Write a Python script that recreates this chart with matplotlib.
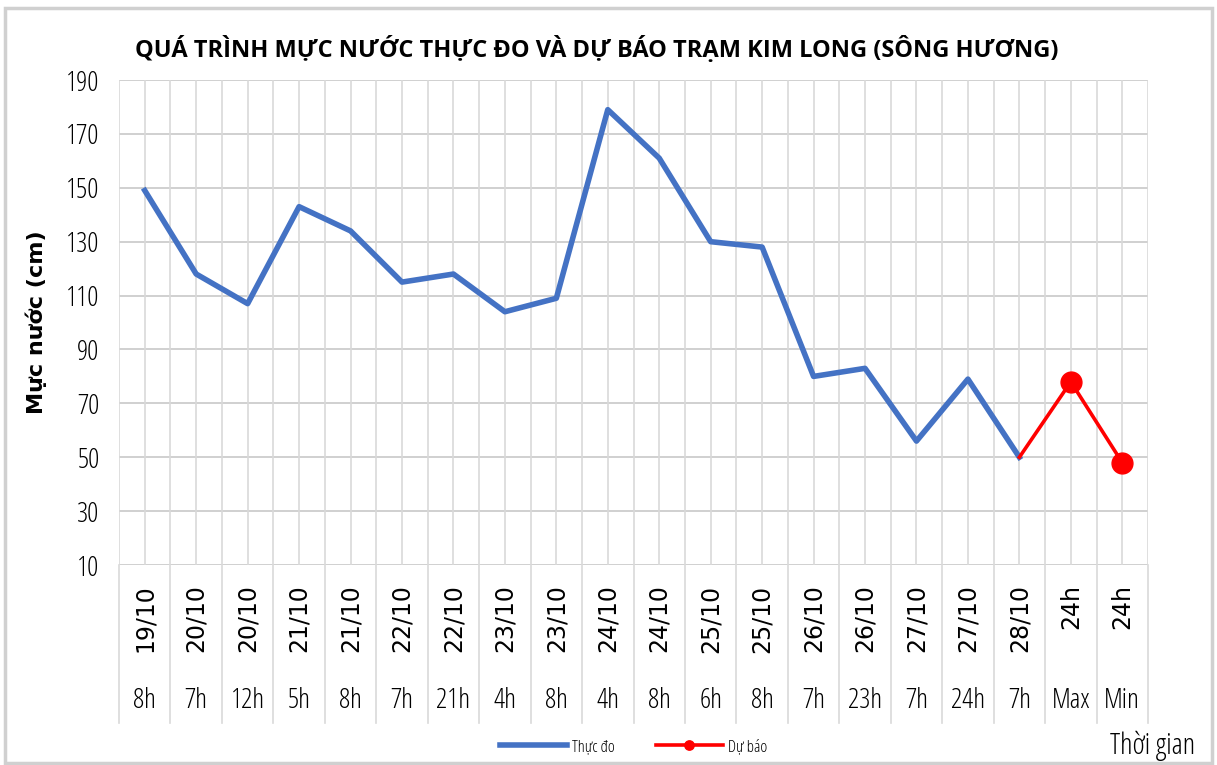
import matplotlib
matplotlib.use("Agg")
import matplotlib.pyplot as plt
from matplotlib import font_manager
from matplotlib.patches import Rectangle
import numpy as np

# ===============================
# DATA
# ===============================
dates = ["19/10", "20/10", "20/10", "21/10", "21/10", "22/10", "22/10", "23/10",
         "23/10", "24/10", "24/10", "25/10", "25/10", "26/10", "26/10", "27/10",
         "27/10", "28/10", "24h", "24h"]
hours = ["8h", "7h", "12h", "5h", "8h", "7h", "21h", "4h", "8h", "4h", "8h",
         "6h", "8h", "7h", "23h", "7h", "24h", "7h", "Max", "Min"]

observed = [149, 118, 107, 143, 134, 115, 118, 104, 109, 179, 161,
            130, 128, 80, 83, 56, 79, 50]
forecast = [50, 78, 48]

# ===============================
# FONTS
# ===============================
names = {f.name for f in font_manager.fontManager.ttflist}
NARROW = [f for f in ["Liberation Sans Narrow", "Open Sans", "DejaVu Sans"] if f in names]
STRETCH = "condensed"

# ===============================
# FIGURE
# ===============================
fig = plt.figure(figsize=(12.17, 7.65), dpi=100)
fig.patches.append(Rectangle((0.004, 0.003), 0.992, 0.986, transform=fig.transFigure,
                             fill=False, edgecolor="#d0d0d0", linewidth=2.5))
ax = fig.add_axes([0.0978, 0.2614, 0.8455, 0.634])

n = len(hours)
x_obs = np.arange(len(observed))
x_fc = np.arange(len(observed) - 1, len(observed) - 1 + len(forecast))

ax.plot(x_obs, observed, color="#4472c4", linewidth=4.0, label="Thực đo", zorder=3)
ax.plot(x_fc, forecast, color="#ff0000", linewidth=2.6, marker="o", markersize=15,
        markevery=[1, 2], label="Dự báo", zorder=4)

ax.set_xlim(-0.5, n - 0.5)
ax.set_ylim(10, 190)
ax.set_yticks(np.arange(10, 191, 20))
ax.set_yticklabels([str(v) for v in range(10, 191, 20)], fontsize=20,
                   family=NARROW, stretch=STRETCH)
ax.tick_params(axis="y", length=0, pad=14)
ax.set_xticks([])

# gridlines
for y in range(10, 191, 20):
    ax.axhline(y, color="#d0d0d0", linewidth=1.4, zorder=1)
for xv in np.arange(-0.5, n, 0.5):
    ax.axvline(xv, color="#d9d9d9", linewidth=1.2, zorder=1)
for s in ax.spines.values():
    s.set_visible(False)

# category labels
tr = ax.get_xaxis_transform()
for i in range(n):
    ax.text(i, -0.04, dates[i], transform=tr, rotation=90, ha="center", va="top",
            fontsize=17, family="DejaVu Sans", fontweight="medium")
    ax.text(i, -0.28, hours[i], transform=tr, ha="center", va="center",
            fontsize=20, family=NARROW, stretch=STRETCH)
for xv in np.arange(-0.5, n, 1.0):
    ax.plot([xv, xv], [0, -0.326], transform=tr, color="#d9d9d9", linewidth=1.2,
            clip_on=False)

ax.set_ylabel("Mực nước (cm)", fontsize=16, fontweight="bold", labelpad=14)

fig.text(0.49, 0.935, "QUÁ TRÌNH MỰC NƯỚC THỰC ĐO VÀ DỰ BÁO TRẠM KIM LONG (SÔNG HƯƠNG)",
         ha="center", va="center", fontsize=17, fontweight="bold", family=NARROW,
         stretch=STRETCH)
fig.text(0.982, 0.025, "Thời gian", ha="right", va="center", fontsize=21,
         family=NARROW, stretch=STRETCH)

leg = ax.legend(loc="center", bbox_to_anchor=(0.5, -0.375), ncol=2, frameon=False,
                prop={"family": NARROW, "size": 12, "stretch": STRETCH},
                handlelength=4, columnspacing=2.5, handletextpad=0.3, markerscale=0.45)

fig.savefig("out.png", dpi=100)
